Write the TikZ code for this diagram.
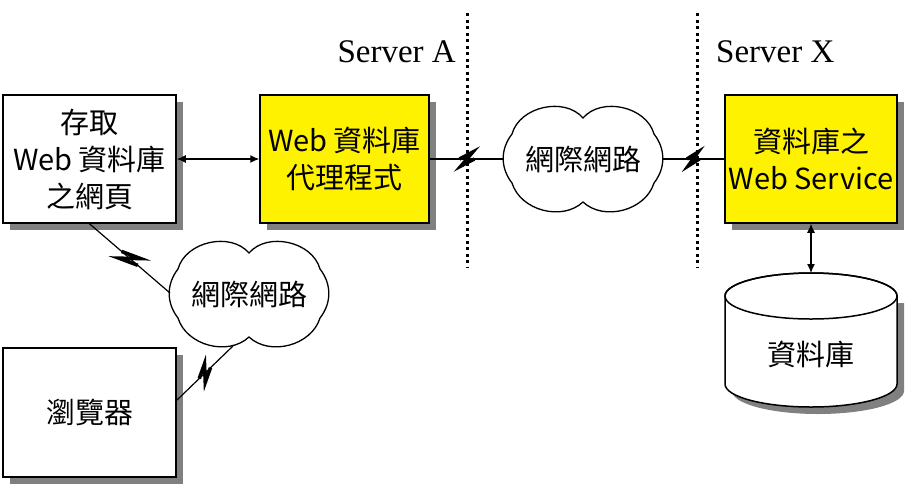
\documentclass[tikz,border=0pt]{standalone}
\usepackage{fontspec}
\setmainfont{Noto Sans CJK TC}
\newfontfamily\serverfont{Liberation Serif}
\usetikzlibrary{shadows,arrows.meta,calc}
\newcommand\netcloudpath[1]{%
  \draw[cloudline] ($(#1)+(0,-41)$) to[bend left=62] ($(#1)+(71,-25)$)
    to[bend left=38] ($(#1)+(71,24)$) to[bend left=58] ($(#1)+(0,43)$)
    to[bend left=58] ($(#1)+(-71,24)$) to[bend left=38] ($(#1)+(-71,-25)$)
    to[bend left=62] cycle;}
\begin{document}
\begin{tikzpicture}[x=1pt,y=-1pt,
  box/.style={draw, line width=1.5pt, rectangle, inner sep=0pt, align=center,
    font=\fontsize{29}{37}\selectfont,
    drop shadow={shadow xshift=7pt, shadow yshift=-7pt, fill=gray, opacity=1}},
  whitebox/.style={box, fill=white},
  yellowbox/.style={box, fill=yellow},
  cloudline/.style={line width=1.3pt, fill=white},
  cloudtext/.style={inner sep=0pt, font=\fontsize{29}{30}\selectfont},
  conn/.style={line width=1.2pt},
  boltz/.style={line width=3.5pt, line join=miter,
    to path={($(\tikztostart)!0.40!(\tikztotarget)$) --
      ($(\tikztostart)!0.58!(\tikztotarget)!7pt!90:(\tikztotarget)$) --
      ($(\tikztostart)!0.42!(\tikztotarget)!7pt!-90:(\tikztotarget)$) --
      ($(\tikztostart)!0.60!(\tikztotarget)$)}},
  dbl/.style={line width=1.2pt, {Latex[length=9pt,width=8pt]}-{Latex[length=9pt,width=8pt]}},
  sep/.style={line width=3pt, dash pattern=on 3pt off 3.5pt},
  srv/.style={font=\serverfont\fontsize{33}{33}\selectfont, inner sep=0pt}
]
\useasboundingbox (0,0) rectangle (915,483);

% separators
\coordinate (sa1) at (467,13);
\coordinate (sa2) at (467,268);
\coordinate (sx1) at (697,13);
\coordinate (sx2) at (697,268);
\draw[sep] (sa1) -- (sa2);
\draw[sep] (sx1) -- (sx2);
\node[srv, anchor=east] (srvA) at (456,52) {Server A};
\node[srv, anchor=west] (srvX) at (716,52) {Server X};

% boxes
\node[whitebox, minimum width=173pt, minimum height=128pt] (b1) at (89.5,159) {存取\\Web 資料庫\\之網頁};
\node[yellowbox, minimum width=169pt, minimum height=128pt] (b2) at (344.5,159) {Web 資料庫\\代理程式};
\node[yellowbox, minimum width=172pt, minimum height=128pt] (b3) at (811,159) {資料庫之\\Web Service};
\node[whitebox, minimum width=173pt, minimum height=129pt] (b4) at (89.5,412.5) {瀏覽器};

% clouds
\coordinate (c1) at (583,159);
\coordinate (c2) at (249,294);
\netcloudpath{c1}
\netcloudpath{c2}
\node[cloudtext] (c1t) at (c1) {網際網路};
\node[cloudtext] (c2t) at (c2) {網際網路};
\coordinate (c1w) at ($(c1)+(-79,0)$);
\coordinate (c1e) at ($(c1)+(79,0)$);
\coordinate (c2w) at ($(c2)+(-79,-1)$);
\coordinate (c2s) at ($(c2)+(-16,52)$);

% database cylinder
\fill[gray] (732,303) -- (732,391) arc[start angle=180, end angle=0, x radius=86, y radius=23]
  -- (904,303) -- cycle;
\filldraw[fill=white, line width=1.5pt] (725,296) -- (725,384)
  arc[start angle=180, end angle=0, x radius=86, y radius=23]
  -- (897,296) arc[start angle=0, end angle=-180, x radius=86, y radius=23];
\draw[line width=1.5pt] (811,296) ellipse[x radius=86, y radius=23];
\coordinate (dbtop) at (811,273);
\node[font=\fontsize{29}{30}\selectfont, inner sep=0pt] (db) at (811,354) {資料庫};

% connectors
\draw[dbl] (b1.east) -- (b2.west);
\draw[dbl] (b3.south) -- (dbtop);

\draw[conn] (b2.east) -- (c1w);
\draw[boltz] (b2.east) to (c1w);
\draw[conn] (c1e) -- (b3.west);
\draw[boltz] (c1e) to (b3.west);
\draw[conn] (b1.south) -- (c2w);
\draw[boltz] (b1.south) to (c2w);
\draw[conn] (c2s) -- (b4.8);
\draw[boltz] (c2s) to (b4.8);
\end{tikzpicture}
\end{document}
